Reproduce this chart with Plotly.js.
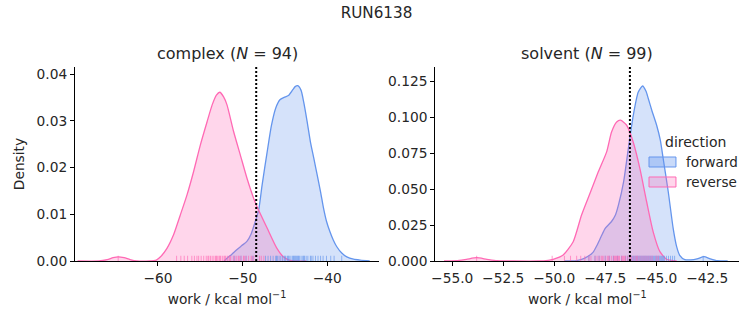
<!DOCTYPE html>
<html>
<head>
<meta charset="utf-8">
<script src="https://cdn.plot.ly/plotly-3.0.1.min.js"></script>
<style>html,body{margin:0;padding:0;background:#fff;}#chart{width:753px;height:325px;}</style>
</head>
<body>
<div id="chart"></div>
<script>
// ---- Data ----
const directions = ["forward", "reverse"];
const panelNames = ["complex", "solvent"];
const panelN = [94, 99];
const dgEstimate = [-48.4, -46.29];

// complex KDE curves
const complexFwdX = [-52.2, -51.85, -51.3, -50.7, -50.1, -49.5, -49.0, -48.5, -48.1, -47.7, -47.1, -46.6, -46.1, -45.6, -45.1, -44.6, -44.1, -43.8, -43.5, -43.1, -42.8, -42.4, -42.0, -41.6, -41.2, -40.8, -40.45, -40.1, -39.7, -39.3, -38.9, -38.3, -37.7, -36.9, -36.1, -35.0];
const complexFwdY = [0.0, 0.0006, 0.0014, 0.0024, 0.0033, 0.0042, 0.0058, 0.0085, 0.0110, 0.0163, 0.0234, 0.0290, 0.0327, 0.0345, 0.0350, 0.0354, 0.0366, 0.0373, 0.0375, 0.0365, 0.0341, 0.0300, 0.0255, 0.0220, 0.0184, 0.0148, 0.0113, 0.0085, 0.0063, 0.0045, 0.0031, 0.0017, 0.0009, 0.0004, 0.0002, 0.0];
const complexRevX = [-69.5, -67.0, -66.0, -65.3, -64.7, -64.0, -63.3, -62.5, -61.0, -60.2, -59.7, -58.94, -58.16, -57.37, -56.58, -55.8, -55.0, -54.2, -53.6, -53.1, -52.7, -52.25, -51.85, -51.07, -50.28, -49.49, -48.7, -48.3, -47.1, -45.95, -45.2, -44.5, -43.5, -42.5];
const complexRevY = [0.0, 0.0, 0.0003, 0.0007, 0.0009, 0.0007, 0.0003, 0.0, 0.0, 0.0002, 0.0009, 0.0027, 0.0056, 0.0098, 0.0141, 0.0191, 0.0248, 0.0298, 0.0334, 0.0355, 0.0361, 0.0351, 0.0334, 0.0277, 0.0227, 0.0177, 0.0134, 0.0116, 0.0070, 0.0027, 0.0009, 0.0002, 0.0, 0.0];

// solvent KDE curves
const solventFwdX = [-49.5, -48.9, -48.5, -48.1, -47.9, -47.7, -47.5, -47.2, -47.0, -46.85, -46.6, -46.37, -46.13, -45.88, -45.67, -45.5, -45.39, -45.2, -44.98, -44.8, -44.66, -44.41, -44.17, -44.0, -43.85, -43.6, -43.3, -43.0, -42.66, -42.35, -42.0, -41.5];
const solventFwdY = [0.0, 0.0003, 0.002, 0.006, 0.011, 0.017, 0.0227, 0.0273, 0.032, 0.039, 0.055, 0.078, 0.101, 0.1175, 0.1217, 0.118, 0.113, 0.104, 0.0944, 0.084, 0.0713, 0.048, 0.0227, 0.010, 0.004, 0.001, 0.0008, 0.0015, 0.003, 0.0015, 0.0002, 0.0];
const solventRevX = [-55.4, -54.8, -54.3, -53.8, -53.3, -52.8, -52.0, -50.8, -50.3, -50.05, -49.56, -49.07, -48.66, -48.25, -47.84, -47.43, -47.19, -46.94, -46.75, -46.45, -46.13, -45.8, -45.47, -45.15, -44.82, -44.49, -44.0];
const solventRevY = [0.0, 0.0002, 0.0012, 0.0023, 0.0012, 0.0002, 0.0, 0.0, 0.0005, 0.0012, 0.0042, 0.0134, 0.032, 0.047, 0.062, 0.0759, 0.0897, 0.0967, 0.0979, 0.0944, 0.0828, 0.0643, 0.0412, 0.0203, 0.0065, 0.0012, 0.0];

// rug samples (work values)
const complexFwdRug = [-51.0, -50.2, -49.6, -48.8, -47.3, -47.0, -46.7, -46.4, -46.1, -46.0, -45.9, -45.7, -45.5, -45.3, -45.1, -45.0, -44.9, -44.7, -44.6, -44.5, -44.3, -44.1, -44.0, -43.9, -43.8, -43.7, -43.6, -43.5, -43.4, -43.3, -43.1, -42.9, -42.8, -42.7, -42.5, -42.3, -42.0, -41.9, -41.7, -41.4, -41.1, -40.8, -40.5, -40.1, -39.6, -39.2, -38.3];
const complexRevRug = [-64.7, -57.8, -57.3, -56.9, -56.5, -56.0, -55.7, -55.4, -55.2, -54.9, -54.6, -54.3, -54.1, -54.0, -53.8, -53.6, -53.4, -53.2, -53.1, -53.0, -52.8, -52.7, -52.6, -52.4, -52.2, -52.1, -52.0, -51.8, -51.6, -51.5, -51.4, -51.1, -50.9, -50.7, -50.5, -50.4, -50.2, -49.9, -49.8, -49.6, -49.3, -49.0, -48.9, -48.7, -48.0, -47.8, -47.5];
const solventFwdRug = [-48.3, -48.0, -47.8, -47.5, -47.3, -47.1, -46.9, -46.7, -46.5, -46.4, -46.3, -46.2, -46.15, -46.1, -46.05, -46.0, -45.95, -45.9, -45.85, -45.8, -45.75, -45.7, -45.65, -45.6, -45.55, -45.5, -45.45, -45.4, -45.35, -45.3, -45.25, -45.2, -45.15, -45.1, -45.05, -45.0, -44.95, -44.9, -44.85, -44.8, -44.75, -44.7, -44.65, -44.6, -44.5, -44.4, -44.3, -44.2, -44.1, -42.7];
const solventRevRug = [-53.8, -50.1, -49.5, -49.2, -48.9, -48.7, -48.5, -48.3, -48.2, -48.0, -47.9, -47.8, -47.7, -47.65, -47.6, -47.5, -47.4, -47.35, -47.3, -47.2, -47.1, -47.05, -47.0, -46.95, -46.9, -46.85, -46.8, -46.7, -46.65, -46.6, -46.55, -46.5, -46.4, -46.3, -46.25, -46.2, -46.1, -46.0, -45.95, -45.9, -45.8, -45.7, -45.6, -45.5, -45.4, -45.3, -45.2, -45.0, -44.9];

// ---- Styles ----
const lineColors = {forward: "rgb(100,149,237)", reverse: "rgb(255,105,180)"};
const fillColors = {forward: "rgba(100,149,237,0.27)", reverse: "rgba(255,105,180,0.27)"};
const patchColors = {forward: "rgba(100,149,237,0.35)", reverse: "rgba(255,105,180,0.27)"};
const rugColors = {forward: "rgba(100,149,237,0.65)", reverse: "rgba(255,105,180,0.65)"};
const FONT = "DejaVu Sans";
const TXT = "#262626";
const TICK = 13.75;

function kde(x, y, dir, xa, ya) {
  return {
    x: x, y: y, xaxis: xa, yaxis: ya, type: "scatter", mode: "lines",
    line: {color: lineColors[dir], width: 1.3, shape: "spline", smoothing: 0.6},
    fill: "tozeroy", fillcolor: fillColors[dir],
    name: dir, legendgroup: dir, showlegend: false, hoverinfo: "skip"
  };
}

const traces = [
  kde(complexFwdX, complexFwdY, "forward", "x", "y"),
  kde(complexRevX, complexRevY, "reverse", "x", "y"),
  kde(solventFwdX, solventFwdY, "forward", "x2", "y2"),
  kde(solventRevX, solventRevY, "reverse", "x2", "y2")
];

const shapes = [];
function rug(vals, dir, xref, yref) {
  vals.forEach(v => shapes.push({
    type: "line", xref: xref, yref: yref + " domain", x0: v, x1: v, y0: 0, y1: 0.027,
    line: {color: rugColors[dir], width: 1}, layer: "above"
  }));
}
rug(complexFwdRug, "forward", "x", "y");
rug(complexRevRug, "reverse", "x", "y");
rug(solventFwdRug, "forward", "x2", "y2");
rug(solventRevRug, "reverse", "x2", "y2");
[["x", "y"], ["x2", "y2"]].forEach((r, i) => shapes.push({
  type: "line", xref: r[0], yref: r[1] + " domain", x0: dgEstimate[i], x1: dgEstimate[i], y0: 0, y1: 1,
  line: {color: "black", width: 2, dash: "2px,2px"}, layer: "above"
}));

// legend (figure legend "direction")
const legendRows = [[0.4862, 0.5169, 0.5015], [0.4246, 0.4554, 0.4400]];
directions.forEach((d, i) => shapes.push({
  type: "rect", xref: "paper", yref: "paper", x0: 0.8619, x1: 0.8977, y0: legendRows[i][0], y1: legendRows[i][1],
  fillcolor: patchColors[d], line: {color: lineColors[d], width: 1}, layer: "above"
}));

const yDom = [0.1969, 0.7938];
const axBase = {
  showline: true, linecolor: "black", linewidth: 1, mirror: false,
  ticks: "outside", ticklen: 4, tickwidth: 1, tickcolor: "black",
  showgrid: false, zeroline: false, automargin: false,
  tickfont: {family: FONT, size: TICK, color: TXT}
};
const xTitle = {text: "work / kcal mol<sup>−1</sup>", font: {family: FONT, size: TICK, color: TXT}, standoff: 9};

const annotations = [
  {text: panelNames[0] + " (<i>N</i> = " + panelN[0] + ")", xref: "paper", yref: "paper", x: 0.3015, y: 0.834, xanchor: "center", yanchor: "middle", showarrow: false, font: {family: FONT, size: 16, color: TXT}},
  {text: panelNames[1] + " (<i>N</i> = " + panelN[1] + ")", xref: "paper", yref: "paper", x: 0.7799, y: 0.834, xanchor: "center", yanchor: "middle", showarrow: false, font: {family: FONT, size: 16, color: TXT}},
  {text: "direction", xref: "paper", yref: "paper", x: 0.9243, y: 0.5631, xanchor: "center", yanchor: "middle", showarrow: false, font: {family: FONT, size: 14, color: TXT}}
];
directions.forEach((d, i) => annotations.push({
  text: d, xref: "paper", yref: "paper", x: 0.9084, y: legendRows[i][2], xanchor: "left", yanchor: "middle", showarrow: false,
  font: {family: FONT, size: 13.5, color: TXT}
}));

const layout = {
  width: 753, height: 325,
  margin: {l: 0, r: 0, t: 0, b: 0},
  paper_bgcolor: "white", plot_bgcolor: "white",
  font: {family: FONT, color: TXT},
  title: {text: "RUN6138", font: {family: FONT, size: 15.2, color: TXT}, x: 0.5, xanchor: "center", y: 0.962, yanchor: "middle"},
  xaxis: Object.assign({}, axBase, {domain: [0.0996, 0.5033], range: [-69.8, -33.9], tickvals: [-60, -50, -40], anchor: "y", title: xTitle}),
  yaxis: Object.assign({}, axBase, {domain: yDom, range: [0, 0.0415], tickvals: [0, 0.01, 0.02, 0.03, 0.04], tickformat: ".2f", anchor: "x",
    title: {text: "Density", font: {family: FONT, size: TICK, color: TXT}, standoff: 8}}),
  xaxis2: Object.assign({}, axBase, {domain: [0.578, 0.9818], range: [-55.83, -40.93], tickvals: [-55, -52.5, -50, -47.5, -45, -42.5], tickformat: ".1f", anchor: "y2", title: xTitle}),
  yaxis2: Object.assign({}, axBase, {domain: yDom, range: [0, 0.1349], tickvals: [0, 0.025, 0.05, 0.075, 0.1, 0.125], tickformat: ".3f", anchor: "x2"}),
  annotations: annotations,
  shapes: shapes,
  showlegend: false
};

Plotly.newPlot("chart", traces, layout, {staticPlot: true, displayModeBar: false});
</script>
</body>
</html>
